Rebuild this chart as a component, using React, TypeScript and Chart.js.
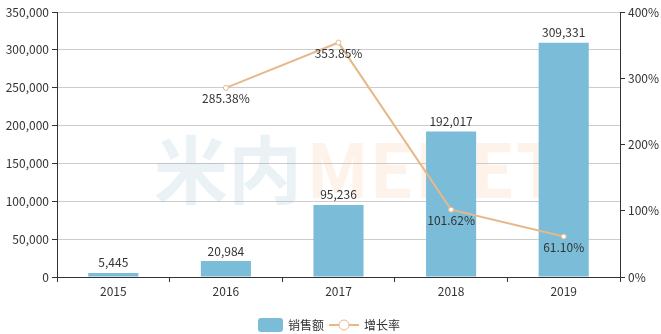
import React, { useEffect, useRef } from "react";
import { Chart, registerables } from "chart.js";

Chart.register(...registerables);

const categories = ["2015", "2016", "2017", "2018", "2019"];
const salesValues = [5445, 20984, 95236, 192017, 309331];
const growthValues: (number | null)[] = [null, 285.38, 353.85, 101.62, 61.1];
const salesLabel = "销售额";
const growthLabel = "增长率";

const BAR_COLOR = "#7bbdd9";
const LINE_COLOR = "#e6b88a";
const TEXT_COLOR = "#333333";
const FONT = "'Noto Sans CJK SC', 'Noto Sans', sans-serif";

const fmt = (v: number) => v.toLocaleString("en-US");

const watermarkPlugin = {
  id: "watermark",
  beforeDatasetsDraw(chart: any) {
    const { ctx, chartArea } = chart;
    ctx.save();
    ctx.font = `bold 74px ${FONT}`;
    ctx.textBaseline = "middle";
    const cy = (chartArea.top + chartArea.bottom) / 2 + 25;
    const x0 = chartArea.left + 97;
    ctx.fillStyle = "rgba(123,175,200,0.16)";
    ctx.fillText("米内", x0, cy);
    const w = ctx.measureText("米内").width;
    ctx.fillStyle = "rgba(245,170,110,0.14)";
    ctx.fillText("MENET", x0 + w + 4, cy);
    ctx.restore();
  },
};

const labelsPlugin = {
  id: "valueLabels",
  afterDatasetsDraw(chart: any) {
    const { ctx } = chart;
    ctx.save();
    ctx.font = `12px ${FONT}`;
    ctx.fillStyle = TEXT_COLOR;
    ctx.textAlign = "center";
    const barMeta = chart.getDatasetMeta(0);
    barMeta.data.forEach((el: any, i: number) => {
      ctx.textBaseline = "bottom";
      ctx.fillText(fmt(salesValues[i]), el.x, el.y - 4);
    });
    const lineMeta = chart.getDatasetMeta(1);
    lineMeta.data.forEach((el: any, i: number) => {
      const v = growthValues[i];
      if (v == null) return;
      ctx.textBaseline = "top";
      ctx.fillText(v.toFixed(2) + "%", el.x, el.y + 5);
    });
    ctx.restore();
  },
};

const legendPlugin = {
  id: "customLegend",
  afterDraw(chart: any) {
    const { ctx, width, height } = chart;
    ctx.save();
    ctx.font = `12px ${FONT}`;
    const t1 = ctx.measureText(salesLabel).width;
    const t2 = ctx.measureText(growthLabel).width;
    const boxW = 25;
    const lineW = 30;
    const gap = 5;
    const itemGap = 5;
    const total = boxW + gap + t1 + itemGap + lineW + gap + t2;
    let x = Math.round(width / 2 - total / 2) - 1;
    const cy = height - 9;
    // bar item
    ctx.fillStyle = BAR_COLOR;
    ctx.beginPath();
    (ctx as any).roundRect(x, cy - 7, boxW, 14, 3);
    ctx.fill();
    x += boxW + gap;
    ctx.fillStyle = TEXT_COLOR;
    ctx.textBaseline = "middle";
    ctx.textAlign = "left";
    ctx.fillText(salesLabel, x, cy);
    x += t1 + itemGap;
    // line item
    ctx.strokeStyle = LINE_COLOR;
    ctx.lineWidth = 2;
    ctx.beginPath();
    ctx.moveTo(x, cy);
    ctx.lineTo(x + lineW, cy);
    ctx.stroke();
    ctx.beginPath();
    ctx.arc(x + lineW / 2, cy, 5, 0, Math.PI * 2);
    ctx.fillStyle = "#ffffff";
    ctx.fill();
    ctx.lineWidth = 1;
    ctx.stroke();
    x += lineW + gap;
    ctx.fillStyle = TEXT_COLOR;
    ctx.fillText(growthLabel, x, cy);
    ctx.restore();
  },
};

export default function App() {
  const canvasRef = useRef<HTMLCanvasElement | null>(null);

  useEffect(() => {
    document.body.style.margin = "0";
    const canvas = canvasRef.current;
    if (!canvas) return;
    const chart = new Chart(canvas, {
      type: "bar",
      data: {
        labels: categories,
        datasets: [
          {
            type: "bar",
            label: salesLabel,
            data: salesValues,
            backgroundColor: BAR_COLOR,
            yAxisID: "y",
            barPercentage: 0.445,
            categoryPercentage: 1,
            order: 2,
          },
          {
            type: "line",
            label: growthLabel,
            data: growthValues,
            borderColor: LINE_COLOR,
            borderWidth: 2,
            backgroundColor: "#ffffff",
            pointBackgroundColor: "#ffffff",
            pointBorderColor: LINE_COLOR,
            pointBorderWidth: 1,
            pointRadius: 2.5,
            yAxisID: "y1",
            tension: 0,
            spanGaps: false,
            order: 1,
          } as any,
        ],
      },
      options: {
        animation: false,
        responsive: false,
        maintainAspectRatio: false,
        layout: { padding: { top: 12, left: 0, right: 0, bottom: 0 } },
        plugins: {
          legend: { display: false },
          tooltip: { enabled: false },
        },
        scales: {
          x: {
            offset: true,
            grid: {
              offset: true,
              drawOnChartArea: false,
              drawTicks: true,
              tickLength: 5,
              color: "#333333",
            },
            border: { color: "#333333", width: 1 },
            ticks: {
              color: TEXT_COLOR,
              font: { size: 12, family: FONT },
              padding: 2,
            },
            afterFit(scale: any) {
              scale.height = 57;
            },
          },
          y: {
            position: "left",
            min: 0,
            max: 350000,
            grid: {
              color: "#cccccc",
              drawTicks: true,
              tickLength: 5,
              tickColor: "#333333",
            },
            border: { color: "#333333", width: 1 },
            ticks: {
              stepSize: 50000,
              color: TEXT_COLOR,
              font: { size: 12, family: FONT },
              padding: 3,
              callback: (v: any) => fmt(Number(v)),
            },
            afterFit(scale: any) {
              scale.width = 57;
            },
          },
          y1: {
            position: "right",
            min: 0,
            max: 400,
            grid: {
              drawOnChartArea: false,
              drawTicks: true,
              tickLength: 5,
              color: "#333333",
            },
            border: { color: "#333333", width: 1 },
            ticks: {
              stepSize: 100,
              color: TEXT_COLOR,
              font: { size: 12, family: FONT },
              padding: 3,
              callback: (v: any) => v + "%",
            },
            afterFit(scale: any) {
              scale.width = 41;
            },
          },
        },
      },
      plugins: [watermarkPlugin, labelsPlugin, legendPlugin],
    });
    return () => chart.destroy();
  }, []);

  return (
    <div style={{ position: "absolute", left: 0, top: 0, width: 661, height: 334 }}>
      <canvas ref={canvasRef} width={661} height={334} style={{ width: 661, height: 334 }} />
    </div>
  );
}
